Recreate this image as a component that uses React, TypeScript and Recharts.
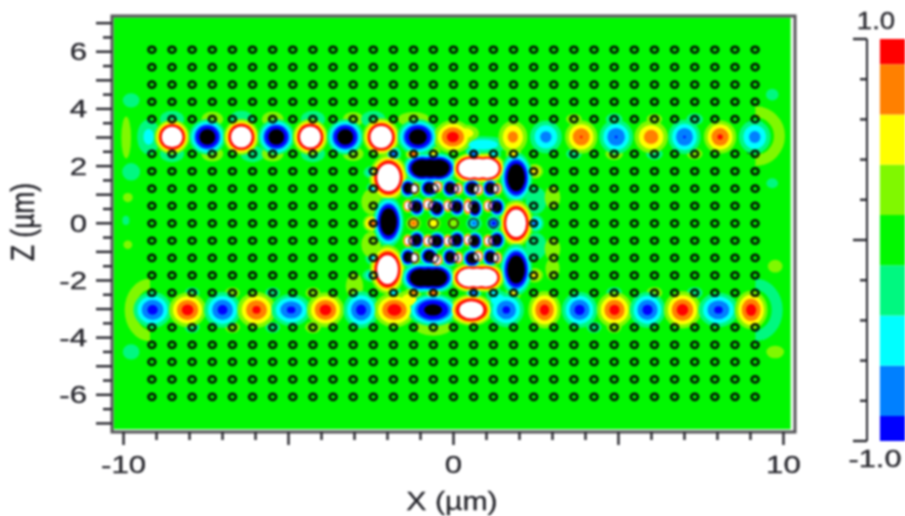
import React from 'react';
import { ScatterChart, Scatter, XAxis, YAxis, ReferenceArea, ComposedChart } from 'recharts';

// ---------- Axis ranges and ticks (µm) ----------
const xDomain = [-10.35, 10.35];
const zDomain = [-7.3, 7.25];
const xTicks = [-10, -9, -8, -7, -6, -5, -4, -3, -2, -1, 0, 1, 2, 3, 4, 5, 6, 7, 8, 9, 10];
const xMajor = [-10, -5, 0, 5, 10];
const xLabelled = [-10, 0, 10];
const zTicks = [7, 6.5, 6, 5.5, 5, 4.5, 4, 3.5, 3, 2.5, 2, 1.5, 1, 0.5, 0, -0.5, -1, -1.5, -2, -2.5, -3, -3.5, -4, -4.5, -5, -5.5, -6, -6.5, -7];
const zLabelled = [6, 4, 2, 0, -2, -4, -6];

// ---------- Air-hole lattice (µm) ----------
const holeColumns = [-9.14, -8.53, -7.92, -7.31, -6.7, -6.09, -5.48, -4.87, -4.26, -3.65, -3.04, -2.43, -1.82, -1.21, -0.61, 0, 0.61, 1.21, 1.82, 2.43, 3.04, 3.65, 4.26, 4.87, 5.48, 6.09, 6.7, 7.31, 7.92, 8.53, 9.14];
const holeRows = [6.07, 5.46, 4.85, 4.25, 3.64, 2.43, 1.82, 1.21, 0.61, 0, -0.61, -1.21, -1.82, -2.43, -3.64, -4.25, -4.85, -5.46, -6.07];
const cavityColumns = [-1.21, -0.61, 0, 0.61, 1.21];
const cavityRows = [1.21, 0.61, 0, -0.61, -1.21];
// Holes swallowed by the saturated lobes around the cavity
const buriedColumnsOnEdgeRows = [-1.82, -1.21, -0.61, 0, 0.61, 1.21, 1.82];
const edgeRows = [1.82, -1.82];
const buriedSideColumns = [-1.82, 1.82];
const buriedSideRows = [1.21, 0.61, 0, -0.61, -1.21];

// ---------- Field lobes: [x, z, amplitude, width x, width z] ----------
type Lobe = [number, number, number, number, number];
const topGuide: Lobe[] = [
  [-9.24, 3.02, -0.45, 0.17, 0.3],
  [-8.53, 3.02, 2.1, 0.23, 0.26], [-7.46, 3.02, -1.6, 0.24, 0.27],
  [-6.43, 3.02, 2.1, 0.23, 0.27], [-5.37, 3.02, -1.6, 0.24, 0.27],
  [-4.34, 3.02, 2.1, 0.23, 0.27], [-3.28, 3.02, -1.6, 0.24, 0.27],
  [-2.19, 3.02, 2.1, 0.24, 0.28], [-1.08, 3.02, -1.6, 0.27, 0.27],
  [-0.02, 3.02, 0.98, 0.26, 0.26], [1.8, 3.02, 0.72, 0.2, 0.26],
  [2.8, 3.02, -0.72, 0.22, 0.26], [3.87, 3.02, 0.88, 0.22, 0.26],
  [4.93, 3.02, -0.88, 0.23, 0.27], [5.99, 3.02, 0.78, 0.23, 0.26],
  [7.0, 3.02, -0.88, 0.22, 0.27], [8.08, 3.02, 0.9, 0.22, 0.26],
  [9.13, 3.02, -0.72, 0.22, 0.27],
];
const bottomGuide: Lobe[] = [
  [-9.12, -3.03, -0.95, 0.26, 0.28], [-8.06, -3.03, 0.98, 0.25, 0.27],
  [-7.0, -3.03, -0.95, 0.25, 0.28], [-5.97, -3.03, 0.92, 0.26, 0.28],
  [-4.92, -3.03, -0.92, 0.27, 0.25], [-3.88, -3.03, 0.98, 0.25, 0.27],
  [-2.8, -3.03, -0.96, 0.24, 0.29], [-1.79, -3.03, 1.0, 0.28, 0.27],
  [-0.62, -3.03, -1.45, 0.34, 0.25], [0.54, -3.03, 1.9, 0.29, 0.24],
  [1.6, -3.03, -0.92, 0.24, 0.27], [2.76, -3.03, 0.96, 0.22, 0.29],
  [3.82, -3.03, -0.96, 0.24, 0.28], [4.88, -3.03, 0.96, 0.24, 0.28],
  [5.88, -3.03, -0.96, 0.24, 0.28], [6.94, -3.03, 0.98, 0.25, 0.29],
  [8.03, -3.03, -0.92, 0.27, 0.27], [9.02, -3.03, 0.98, 0.22, 0.3],
];
const cavityLobes: Lobe[] = [
  [-0.95, 1.93, -2.0, 0.25, 0.23], [-0.7, 1.93, -2.0, 0.25, 0.23], [-0.45, 1.93, -2.0, 0.25, 0.23],
  [0.5, 1.92, 2.3, 0.24, 0.23], [0.76, 1.92, 2.3, 0.24, 0.23], [1.02, 1.92, 2.3, 0.24, 0.23],
  [1.9, 1.6, -1.9, 0.21, 0.38], [-1.97, 1.6, 2.1, 0.25, 0.35],
  [-1.97, 0.05, -1.9, 0.2, 0.38], [1.9, 0, 2.1, 0.22, 0.35],
  [-2.0, -1.62, 2.1, 0.23, 0.37], [1.9, -1.62, -1.9, 0.21, 0.39],
  [-1.0, -1.9, -2.0, 0.25, 0.23], [-0.76, -1.9, -2.0, 0.25, 0.23], [-0.52, -1.9, -2.0, 0.25, 0.23],
  [0.47, -1.9, 2.3, 0.24, 0.22], [0.72, -1.9, 2.3, 0.24, 0.22], [0.98, -1.9, 2.3, 0.24, 0.22],
];
const darkSpots: Lobe[] = [
  [-1.38, 1.23, -1.8, 0.11, 0.15], [-0.74, 1.23, -1.8, 0.13, 0.15], [-0.11, 1.23, -1.8, 0.11, 0.15], [0.56, 1.23, -1.8, 0.13, 0.15], [1.11, 1.23, -1.8, 0.11, 0.15],
  [-1.11, 0.57, -1.8, 0.11, 0.15], [-0.5, 0.52, -1.8, 0.12, 0.15], [0.11, 0.57, -1.8, 0.11, 0.15], [0.65, 0.52, -1.8, 0.11, 0.16], [1.32, 0.57, -1.8, 0.11, 0.15],
  [-1.11, -0.58, -1.8, 0.11, 0.15], [-0.5, -0.62, -1.8, 0.12, 0.15], [0.11, -0.58, -1.8, 0.11, 0.15], [0.65, -0.62, -1.8, 0.11, 0.15], [1.32, -0.58, -1.8, 0.11, 0.15],
  [-1.38, -1.18, -1.8, 0.11, 0.15], [-0.74, -1.15, -1.8, 0.13, 0.15], [-0.11, -1.18, -1.8, 0.11, 0.15], [0.56, -1.23, -1.8, 0.13, 0.15], [1.11, -1.18, -1.8, 0.11, 0.15],
];
const brightSpots: Lobe[] = [
  [-1.17, 1.21, 2.2, 0.07, 0.1], [-0.5, 1.28, 2.2, 0.08, 0.1], [0.14, 1.21, 2.2, 0.07, 0.1], [0.74, 1.18, 2.2, 0.08, 0.1], [1.32, 1.21, 2.2, 0.07, 0.1],
  [-1.38, 0.61, 2.2, 0.07, 0.1], [-0.77, 0.66, 2.2, 0.08, 0.1], [-0.17, 0.61, 2.2, 0.07, 0.1], [0.44, 0.58, 2.2, 0.07, 0.13], [1.05, 0.61, 2.2, 0.07, 0.1],
  [-1.38, -0.61, 2.2, 0.07, 0.1], [-0.77, -0.61, 2.2, 0.08, 0.1], [-0.17, -0.61, 2.2, 0.07, 0.1], [0.44, -0.58, 2.2, 0.07, 0.1], [1.05, -0.61, 2.2, 0.07, 0.1],
  [-1.17, -1.21, 2.2, 0.07, 0.1], [-0.5, -1.28, 2.2, 0.08, 0.1], [0.14, -1.21, 2.2, 0.07, 0.1], [0.74, -1.15, 2.2, 0.08, 0.1], [1.32, -1.21, 2.2, 0.07, 0.1],
];
const cavityRingLobes: Lobe[] = [
  [-1.21, 0, 0.75, 0.1, 0.11], [-0.6, 0, 0.5, 0.1, 0.11], [0, 0, 0.3, 0.1, 0.11], [0.62, 0, -0.7, 0.11, 0.12], [1.22, 0, -0.95, 0.1, 0.12],
];
const fringeLobes: Lobe[] = [
  [-1.82, 2.43, -0.75, 0.11, 0.13], [-1.21, 2.43, 0.75, 0.11, 0.13], [-0.61, 2.43, 0.45, 0.11, 0.13], [0.61, 2.43, -0.85, 0.11, 0.13], [1.21, 2.43, -0.5, 0.11, 0.13], [1.82, 2.43, 0.55, 0.11, 0.13],
  [-1.82, -2.43, -0.5, 0.11, 0.13], [-1.21, -2.43, 0.65, 0.11, 0.13], [-0.61, -2.43, 0.75, 0.11, 0.13], [0.61, -2.43, -0.85, 0.11, 0.13], [1.21, -2.43, -0.5, 0.11, 0.13], [1.82, -2.43, 0.5, 0.11, 0.13],
  [-2.43, 1.78, -0.55, 0.14, 0.11], [-2.43, 1.21, -0.45, 0.1, 0.12], [-2.46, -1.21, -0.5, 0.1, 0.12], [-2.46, -1.82, -0.55, 0.14, 0.11],
  [2.46, 1.82, 0.6, 0.12, 0.12], [2.46, -1.82, 0.55, 0.12, 0.12], [-2.48, 0, 0.75, 0.12, 0.14], [2.48, 0, -0.7, 0.12, 0.14],
  [0.9, 2.75, -0.55, 0.35, 0.14], [0.35, 3.15, 0.55, 0.2, 0.14], [-1.35, -2.68, 0.55, 0.18, 0.16], [1.35, -2.68, -0.55, 0.17, 0.16],
  [-2.5, 0.75, 0.2, 0.2, 0.3], [-2.5, -0.75, 0.2, 0.2, 0.3], [2.5, 0.8, -0.22, 0.2, 0.3], [2.5, -0.8, -0.22, 0.2, 0.3],
  [3.0, 0.9, 0.18, 0.18, 0.3], [3.0, -0.9, 0.18, 0.18, 0.3], [-3.0, -2.2, 0.2, 0.18, 0.3], [3.0, -1.6, 0.18, 0.16, 0.3],
  [-8.53, 3.64, -0.3, 0.2, 0.16], [-7.31, 3.64, 0.24, 0.2, 0.16], [-6.43, 3.64, -0.3, 0.2, 0.16], [-5.48, 3.64, 0.24, 0.2, 0.16], [-4.26, 3.64, -0.3, 0.2, 0.16], [-3.04, 3.64, 0.22, 0.2, 0.16], [-2.43, 3.64, -0.3, 0.2, 0.16], [-1.21, 3.64, 0.22, 0.3, 0.16],
  [-8.53, 2.43, -0.3, 0.2, 0.16], [-7.31, 2.43, 0.24, 0.2, 0.16], [-6.09, 2.43, -0.3, 0.2, 0.16], [-5.48, 2.43, 0.24, 0.2, 0.16], [-4.26, 2.43, -0.3, 0.2, 0.16], [-3.04, 2.43, 0.22, 0.2, 0.16],
  [3.65, 3.64, 0.2, 0.16, 0.13], [4.87, 3.64, -0.22, 0.16, 0.13], [6.09, 3.64, 0.2, 0.16, 0.13], [7.31, 3.64, -0.22, 0.16, 0.13],
  [3.65, 2.43, -0.2, 0.16, 0.13], [4.87, 2.43, 0.24, 0.16, 0.13], [6.09, 2.43, -0.22, 0.16, 0.13], [7.31, 2.43, 0.2, 0.16, 0.13],
  [-7.92, -2.43, -0.2, 0.15, 0.13], [-6.7, -2.43, 0.2, 0.15, 0.13], [-5.48, -2.43, -0.2, 0.15, 0.13], [-4.26, -2.43, 0.2, 0.15, 0.13],
  [-7.92, -3.64, -0.2, 0.15, 0.13], [-6.7, -3.64, 0.2, 0.15, 0.13], [-5.48, -3.64, -0.2, 0.15, 0.13], [-4.26, -3.64, 0.22, 0.15, 0.13], [-0.61, -3.64, 0.3, 0.3, 0.16],
  [4.87, -2.43, -0.22, 0.15, 0.13], [6.09, -2.43, 0.22, 0.15, 0.13], [7.31, -2.43, -0.22, 0.15, 0.13], [4.26, -3.64, -0.2, 0.15, 0.13], [4.87, -3.64, 0.2, 0.15, 0.13],
];
const edgeSpots: Lobe[] = [
  [-9.92, 3.0, 0.2, 0.1, 0.5], [-9.77, 4.3, -0.22, 0.16, 0.16], [-9.77, 1.8, -0.25, 0.16, 0.18], [-9.87, 0.9, 0.2, 0.1, 0.11],
  [-9.93, 0.1, -0.18, 0.08, 0.12], [-9.87, -0.75, 0.18, 0.1, 0.11], [-9.77, -4.5, -0.22, 0.16, 0.17],
  [9.66, 4.5, -0.2, 0.13, 0.14], [9.66, 1.4, -0.2, 0.12, 0.12], [9.75, -1.5, 0.22, 0.14, 0.14], [9.75, -4.5, 0.22, 0.17, 0.14],
];
// ---------- Faint end arcs: [x, z, level, radius x, radius z, side] ----------
const endArcs: [number, number, number, number, number, number][] = [
  [9.15, 3.05, 0.25, 0.73, 0.85, 1],
  [9.15, -3.03, -0.25, 0.66, 0.9, 1],
  [-9.2, -3.03, 0.25, 0.6, 0.9, -1],
];
// ---------- Waveguide end boxes: [x1, x2, z1, z2] ----------
const endBoxes: number[][] = [
  [8.93, 9.2, 2.45, 3.55],
  [8.95, 9.2, -3.55, -2.45],
  [-9.16, -8.95, -3.55, -2.45],
];
// ---------- Colour scale ----------
const scaleEdges = [-1, -0.875, -0.625, -0.375, -0.125, 0.125, 0.375, 0.625, 0.875, 1];
const scaleColors = ['#0000ff', '#0080ff', '#00ffff', '#00f880', '#00f800', '#80f800', '#ffff00', '#ff8000', '#ff0000'];
const scaleTicks = [1, 0.8, 0.6, 0.4, 0.2, 0, -0.2, -0.4, -0.6, -0.8, -1];
const scaleMajor = [1, 0, -1];
const contourLevels = [0.125, 0.375, 0.625, 0.875, 1.25];
const contourSpread = [2.4, 2.25, 2.15, 2.15, 2.15];
const positiveBand = ['#80f800', '#ffff00', '#ff8000', '#ff0000', '#ffffff'];
const negativeBand = ['#00f880', '#00ffff', '#0080ff', '#0000ff', '#000000'];

const INK = '#26262c';
const FONT = '"Liberation Sans", Arial, sans-serif';
const W = 905, H = 516, LEFT = 112, RIGHT = 110, TOP = 16, BOTTOM = 84;
const plotW = W - LEFT - RIGHT, plotH = H - TOP - BOTTOM;
const pxX = plotW / (xDomain[1] - xDomain[0]);
const pxZ = plotH / (zDomain[1] - zDomain[0]);
const plotBottom = TOP + plotH;

const lobes = [...edgeSpots, ...fringeLobes, ...topGuide, ...bottomGuide, ...cavityLobes, ...cavityRingLobes, ...darkSpots, ...brightSpots]
  .map(([x, z, amp, wx, wz]) => ({ x, z, amp, wx, wz }));
const arcRows = endArcs.map(([x, z, level, rx, rz, side]) => ({ x, z, level, rx, rz, side }));
const isCavity = (x: number, z: number) => cavityColumns.includes(x) && cavityRows.includes(z);
const isBuried = (x: number, z: number) =>
  (edgeRows.includes(z) && buriedColumnsOnEdgeRows.includes(x)) ||
  (buriedSideColumns.includes(x) && buriedSideRows.includes(z));
const holes = holeRows.flatMap((z) => holeColumns.filter((x) => !isCavity(x, z) && !isBuried(x, z)).map((x) => ({ x, z })));
const cavityHoles = cavityRows.flatMap((z) => cavityColumns.map((x) => ({ x, z })));

const bandShape = (index: number) => (p: any) => {
  const d = p.payload;
  const t = contourLevels[index];
  const a = Math.abs(d.amp);
  if (a <= t) return <g />;
  const k = contourSpread[index] * Math.sqrt(1 - t / a);
  return (
    <ellipse cx={p.cx} cy={p.cy} rx={d.wx * pxX * k} ry={d.wz * pxZ * k}
      fill={(d.amp > 0 ? positiveBand : negativeBand)[index]} />
  );
};
const arcShape = (p: any) => {
  const d = p.payload;
  const rx = d.rx * pxX, ry = d.rz * pxZ;
  return (
    <path d={`M${p.cx},${p.cy - ry} A${rx},${ry} 0 0 ${d.side > 0 ? 1 : 0} ${p.cx},${p.cy + ry}`}
      fill="none" stroke={d.level > 0 ? '#80f800' : '#00f880'} strokeWidth={11} />
  );
};
const holeShape = (p: any) => (
  <ellipse cx={p.cx} cy={p.cy} rx={3.5} ry={3.1} fill="none" stroke="#061006" strokeWidth={2.5} />
);
const cavityHoleShape = (p: any) => (
  <ellipse cx={p.cx} cy={p.cy} rx={4.6} ry={4.6} fill="none" stroke="#101410" strokeWidth={1.6} />
);

const Wide = ({ x, y, sx, sy = 1, anchor = 'middle', size = 24, children }: any) => (
  <text transform={`translate(${x},${y}) scale(${sx},${sy})`} textAnchor={anchor} fontFamily={FONT} fontSize={size} fill={INK} stroke={INK} strokeWidth={0.3}>{children}</text>
);
const XTick = (p: any) => {
  const v = p.payload.value;
  const major = xMajor.includes(v);
  return (
    <g>
      <line x1={p.x} x2={p.x} y1={plotBottom} y2={plotBottom + (major ? 13 : 8)} stroke={INK} strokeWidth={2.4} />
      {xLabelled.includes(v) && <Wide x={p.x} y={473} sx={1.3}>{v}</Wide>}
    </g>
  );
};
const ZTick = (p: any) => {
  const v = p.payload.value;
  const major = Number.isInteger(v);
  return (
    <g>
      <line x1={LEFT} x2={LEFT - (major ? 16 : 9)} y1={p.y} y2={p.y} stroke={INK} strokeWidth={2.4} />
      {zLabelled.includes(v) && <Wide x={87} y={p.y + 8.5} sx={1.3} anchor="end">{v}</Wide>}
    </g>
  );
};
const ScaleTick = (p: any) => {
  const v = p.payload.value;
  const major = scaleMajor.includes(v);
  return (
    <g>
      <line x1={47} x2={major ? 33 : 40} y1={p.y} y2={p.y} stroke={INK} strokeWidth={2.4} />
      {v === 1 && <Wide x={56} y={29} sx={1.15}>1.0</Wide>}
      {v === -1 && <Wide x={55} y={467} sx={1.28}>-1.0</Wide>}
    </g>
  );
};
const XTitle = () => <Wide x={452} y={510} sx={1.21} size={25}>X (µm)</Wide>;
const ZTitle = () => (
  <text transform="translate(34,222) rotate(-90) scale(1.1,1.35)" textAnchor="middle" fontFamily={FONT} fontSize={24} fill={INK} stroke={INK} strokeWidth={0.3}>Z (µm)</text>
);

export default function App() {
  return (
    <div style={{ position: 'absolute', left: 0, top: 0, width: W, height: H, overflow: 'hidden', filter: 'blur(0.8px)', background: '#fff' }}>
      <ScatterChart width={W} height={H} margin={{ left: 0, right: RIGHT, top: TOP, bottom: 0 }}>
        <XAxis type="number" dataKey="x" domain={xDomain} ticks={xTicks} interval={0} height={BOTTOM} axisLine={false} tickLine={false} tick={<XTick />} allowDataOverflow
          label={{ content: XTitle }} />
        <YAxis type="number" dataKey="z" domain={zDomain} ticks={zTicks} interval={0} width={LEFT} axisLine={false} tickLine={false} tick={<ZTick />} allowDataOverflow
          label={{ content: ZTitle }} />
        <ReferenceArea x1={xDomain[0] + 0.05} x2={10.22} y1={-7.2} y2={7.2} fill="#00f800" fillOpacity={1} stroke="none" />
        <Scatter data={arcRows} shape={arcShape} isAnimationActive={false} />
        {contourLevels.map((t, i) => (
          <Scatter key={t} data={lobes} shape={bandShape(i)} isAnimationActive={false} />
        ))}
        <Scatter data={holes} shape={holeShape} isAnimationActive={false} />
        <Scatter data={cavityHoles} shape={cavityHoleShape} isAnimationActive={false} />
        {endBoxes.map((b) => (
          <ReferenceArea key={b.join()} x1={b[0]} x2={b[1]} y1={b[2]} y2={b[3]} fill="none" stroke="#1c3a2c" strokeWidth={1.2} />
        ))}
        <ReferenceArea x1={xDomain[0]} x2={xDomain[1]} y1={zDomain[0]} y2={zDomain[1]} fill="none" stroke="#555558" strokeWidth={3} />
      </ScatterChart>
      <div style={{ position: 'absolute', left: 820, top: 0 }}>
        <ComposedChart width={85} height={H} data={[{ x: 0 }, { x: 1 }]} margin={{ left: 0, right: 0, top: 39, bottom: 75 }}>
          <XAxis type="number" dataKey="x" domain={[0, 1]} hide />
          <YAxis type="number" domain={[-1, 1]} ticks={scaleTicks} interval={0} width={47} axisLine={{ stroke: INK, strokeWidth: 2 }} tickLine={false} tick={<ScaleTick />} allowDataOverflow />
          {scaleColors.map((c, i) => (
            <ReferenceArea key={c} x1={0.34} x2={1} y1={scaleEdges[i]} y2={scaleEdges[i + 1]} fill={c} fillOpacity={1} stroke="none" />
          ))}
        </ComposedChart>
      </div>
    </div>
  );
}
